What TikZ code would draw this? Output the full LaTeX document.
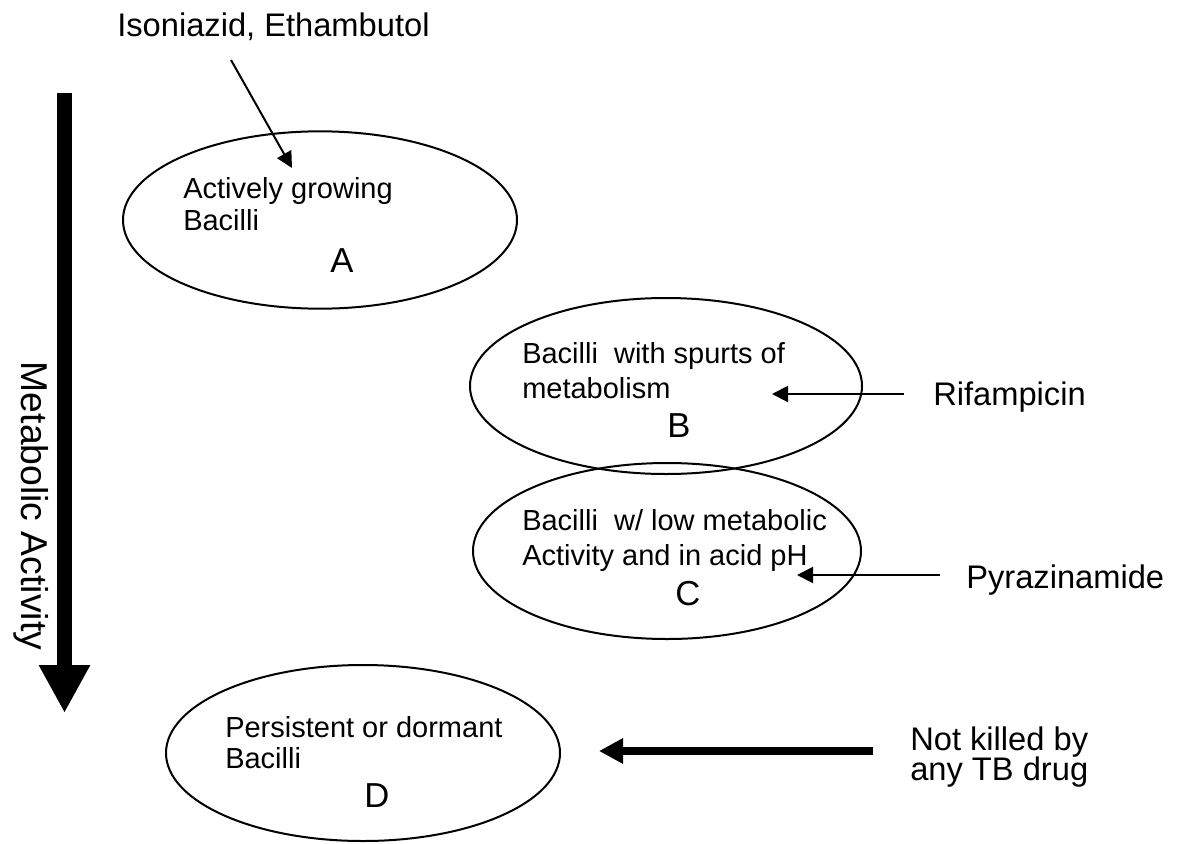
\documentclass[tikz,border=0pt]{standalone}
\usepackage{fontspec}
\setmainfont{Liberation Sans}
\usetikzlibrary{shapes.geometric,arrows.meta}
\begin{document}
\begin{tikzpicture}[x=0.75pt,y=-0.75pt,
  bubble/.style={draw,ellipse,line width=1.5pt,inner sep=0pt},
  small/.style={inner sep=0pt,anchor=base west,font=\fontsize{21.75}{26}\selectfont},
  big/.style={inner sep=0pt,anchor=base west,font=\fontsize{24.5}{29}\selectfont},
  letter/.style={inner sep=0pt,anchor=base,font=\fontsize{26}{31}\selectfont},
  thinarrow/.style={line width=1.5pt,-{Triangle[length=12pt,width=12pt]}},
  medarrow/.style={line width=6pt,-{Triangle[length=18pt,width=18pt]}},
  bigarrow/.style={line width=11.25pt,-{Triangle[length=36pt,width=36pt]}}]
\useasboundingbox (0,0) rectangle (1178,843);
% ellipses
\node[bubble,minimum width=295.5pt,minimum height=133pt] (A) at (320,220) {};
\node[bubble,minimum width=294pt,minimum height=132pt] (B) at (666,386) {};
\node[bubble,minimum width=291pt,minimum height=132pt] (C) at (667,551) {};
\node[bubble,minimum width=295.5pt,minimum height=132pt] (D) at (363,753) {};
% texts in ellipses
\node[small] (a1) at (183,198) {Actively growing};
\node[small] (a2) at (183,230) {Bacilli};
\node[letter] (aL) at (342,272) {A};
\node[small] (b1) at (522,363) {Bacilli\ \ with spurts of};
\node[small] (b2) at (522,398) {metabolism};
\node[letter] (bL) at (679,437) {B};
\node[small] (c1) at (522,530) {Bacilli\ \ w/ low metabolic};
\node[small] (c2) at (522,565) {Activity and in acid pH};
\node[letter] (cL) at (688,605) {C};
\node[small] (d1) at (225,737) {Persistent or dormant};
\node[small] (d2) at (225,768) {Bacilli};
\node[letter] (dL) at (377,807) {D};
% drug labels
\node[big] (iso) at (117,36) {Isoniazid, Ethambutol};
\node[big] (rif) at (933,405) {Rifampicin};
\node[big] (pyr) at (966,588) {Pyrazinamide};
\node[big] (nk1) at (910,750) {Not killed by};
\node[big] (nk2) at (910,780) {any TB drug};
\node[inner sep=0pt,rotate=-90,font=\fontsize{28}{33}\selectfont] (met) at (31,506) {Metabolic Activity};
% connector end points
\coordinate (isoS) at (231,60);
\coordinate (isoT) at (292,168);
\coordinate (rifS) at (904,394);
\coordinate (rifT) at (772,394);
\coordinate (pyrS) at (940,575);
\coordinate (pyrT) at (797,575);
\coordinate (nkS) at (873,751);
\coordinate (nkT) at (599,751);
\coordinate (metS) at (64.5,93);
\coordinate (metT) at (64.5,713);
% arrows
\draw[thinarrow] (isoS) -- (isoT);
\draw[thinarrow] (rifS) -- (rifT);
\draw[thinarrow] (pyrS) -- (pyrT);
\draw[medarrow] (nkS) -- (nkT);
\draw[bigarrow] (metS) -- (metT);
\end{tikzpicture}
\end{document}
